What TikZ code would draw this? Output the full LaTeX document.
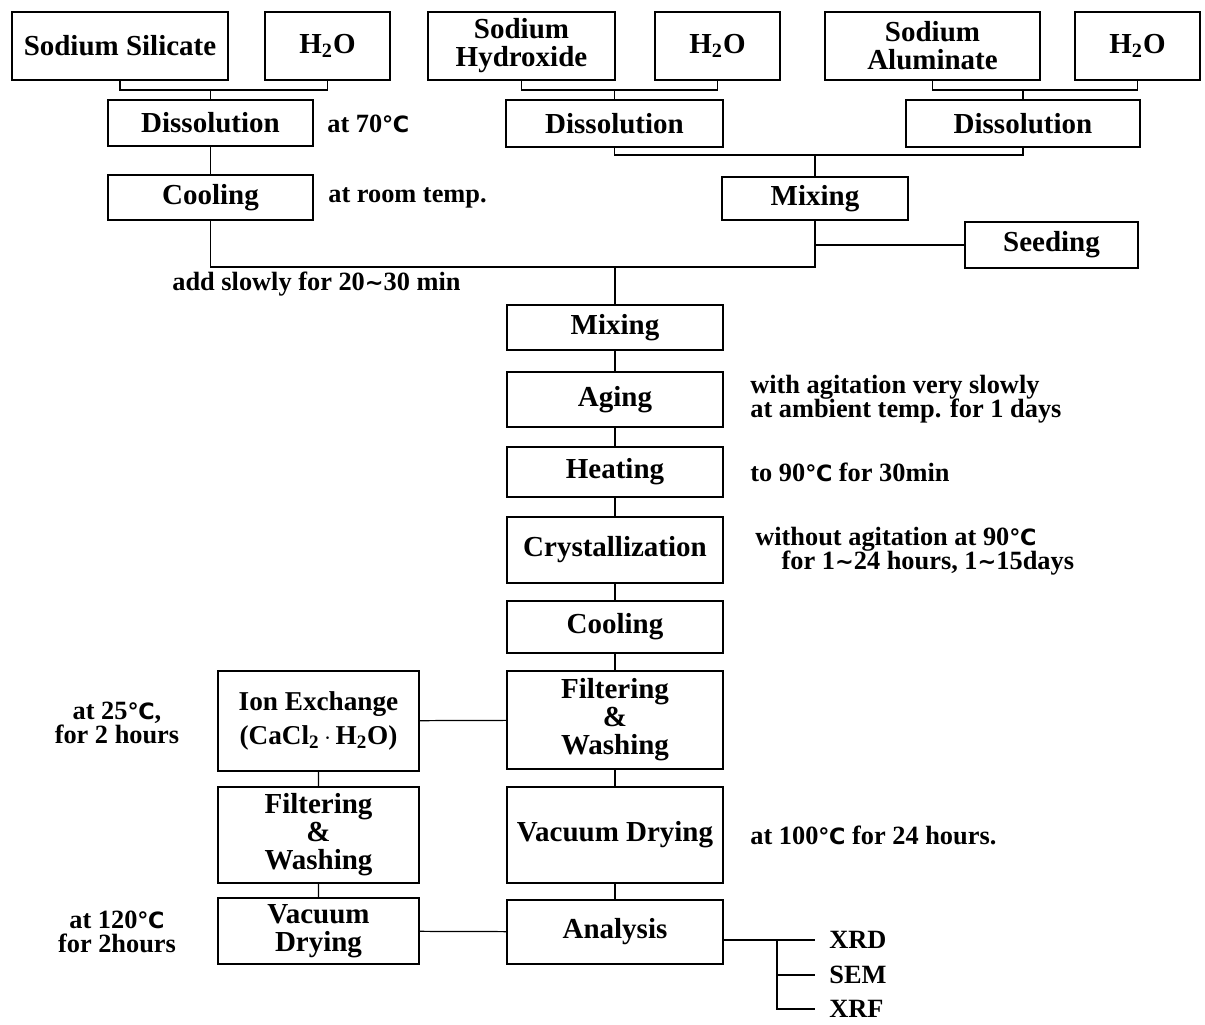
\documentclass[tikz,border=0pt]{standalone}
\usepackage{fontspec}
\setmainfont{Liberation Serif}
\newfontfamily\symfont[Scale=0.85]{DejaVu Sans}
\newcommand{\degC}{{\symfont ℃}}
\newcommand{\wave}{{\symfont ∼}}
\usepackage{tikz}

\begin{document}
\begin{tikzpicture}[x=0.02cm,y=-0.02cm,
  box/.style={draw,line width=1.4pt,inner sep=0pt,align=center,font=\fontsize{16.5}{16}\selectfont\bfseries},
  mid/.style={box,minimum width=4.32cm},
  lft/.style={box,minimum width=4.02cm},
  note/.style={inner sep=0pt,align=left,anchor=west,font=\fontsize{15}{14}\selectfont\bfseries},
  tag/.style={note,inner xsep=8pt},
  link/.style={line width=0.7pt}]
\useasboundingbox (0,0) rectangle (1205,1025);

%raw materials
\node[box,minimum width=4.32cm,minimum height=1.36cm] (SS) at (120,46) {Sodium Silicate};
\node[box,minimum width=2.5cm,minimum height=1.36cm] (W1) at (327.5,46) {H\textsubscript{2}O};
\node[box,minimum width=3.74cm,minimum height=1.36cm] (SH) at (521.5,46) {Sodium\\Hydroxide};
\node[box,minimum width=2.5cm,minimum height=1.36cm] (W2) at (717.5,46) {H\textsubscript{2}O};
\node[box,minimum width=4.3cm,minimum height=1.36cm] (SA) at (932.5,46) {Sodium\\Aluminate};
\node[box,minimum width=2.5cm,minimum height=1.36cm] (W3) at (1137.5,46) {H\textsubscript{2}O};

%dissolution
\node[box,minimum width=4.1cm,minimum height=0.92cm] (D1) at (210.5,123) {Dissolution};
\node[box,minimum width=4.34cm,minimum height=0.94cm] (D2) at (614.5,123.5) {Dissolution};
\node[box,minimum width=4.68cm,minimum height=0.94cm] (D3) at (1023,123.5) {Dissolution};
\node[box,minimum width=4.1cm,minimum height=0.9cm] (C1) at (210.5,197.5) {Cooling};
\node[box,minimum width=3.72cm,minimum height=0.86cm] (M1) at (815,198.5) {Mixing};
\node[box,minimum width=3.46cm,minimum height=0.92cm] (Seed) at (1051.5,245) {Seeding};

%main line
\node[mid,minimum height=0.9cm] (M2) at (615,327.5) {Mixing};
\node[mid,minimum height=1.1cm] (Aging) at (615,399.5) {Aging};
\node[mid,minimum height=1.0cm] (Heat) at (615,472) {Heating};
\node[mid,minimum height=1.32cm] (Cryst) at (615,550) {Crystallization};
\node[mid,minimum height=1.04cm] (C2) at (615,627) {Cooling};
\node[mid,minimum height=1.96cm] (FW1) at (615,720) {Filtering\\\&\\Washing};
\node[mid,minimum height=1.92cm] (VD1) at (615,835) {Vacuum Drying};
\node[mid,minimum height=1.28cm] (Ana) at (615,932) {Analysis};

%ion exchange line
\node[lft,minimum height=2.0cm,font=\fontsize{15.5}{19}\selectfont\bfseries] (IE) at (318.5,721) {Ion Exchange\\(CaCl\textsubscript{2}\,$\cdot$\,H\textsubscript{2}O)};
\node[lft,minimum height=1.92cm] (FW2) at (318.5,835) {Filtering\\\&\\Washing};
\node[lft,minimum height=1.32cm] (VD2) at (318.5,931) {Vacuum\\Drying};

%conditions
\node[note] (n1) at (327,124) {at 70\degC};
\node[note] (n2) at (328,198) {at room temp.};
\node[note] (n3) at (172,284) {add slowly for 20\wave30 min};
\node[note] (n4) at (750,399) {with agitation very slowly\\at ambient temp. for 1 days};
\node[note] (n5) at (750,472) {to 90\degC\ for 30min};
\node[note] (n6) at (755,551) {without agitation at 90\degC\\\hspace*{1em}for 1\wave24 hours, 1\wave15days};
\node[note] (n7) at (750,835) {at 100\degC\ for 24 hours.};
\node[note,anchor=center,align=center] (n8) at (117,723) {at 25\degC,\\for 2 hours};
\node[note,anchor=center,align=center] (n9) at (117,932) {at 120\degC\\for 2hours};

%analysis methods
\node[tag] (XRD) at (815,940) {XRD};
\node[tag] (SEM) at (815,975) {SEM};
\node[tag] (XRF) at (815,1009) {XRF};

%brackets
\coordinate (j1) at (210.5,90);
\coordinate (j2) at (614.5,90);
\coordinate (j3) at (1023,90);
\coordinate (j4) at (815,155);
\coordinate (j5) at (615,267);
\coordinate (br) at (777,940);
\draw[link] (SS.south) |- (j1) -| (W1.south);
\draw[link] (j1) -- (D1.north);
\draw[link] (SH.south) |- (j2) -| (W2.south);
\draw[link] (j2) -- (D2.north);
\draw[link] (SA.south) |- (j3) -| (W3.south);
\draw[link] (j3) -- (D3.north);
\draw[link] (D2.south) |- (j4) -| (D3.south);
\draw[link] (j4) -- (M1.north);
\draw[link] (D1) -- (C1);
\draw[link] (C1.south) |- (j5) -| (M1.south);
\draw[link] (Seed.west) -- (Seed.west -| M1.south);
\draw[link] (j5) -- (M2.north);

%connectors
\draw[link] (M2) -- (Aging) -- (Heat) -- (Cryst) -- (C2) -- (FW1) -- (VD1) -- (Ana);
\draw[link] (FW1) -- (IE) -- (FW2) -- (VD2) -- (Ana);
\draw[link] (Ana.east |- XRD.west) -- (XRD.west);
\draw[link] (br) |- (SEM.west);
\draw[link] (br) |- (XRF.west);
\end{tikzpicture}
\end{document}
